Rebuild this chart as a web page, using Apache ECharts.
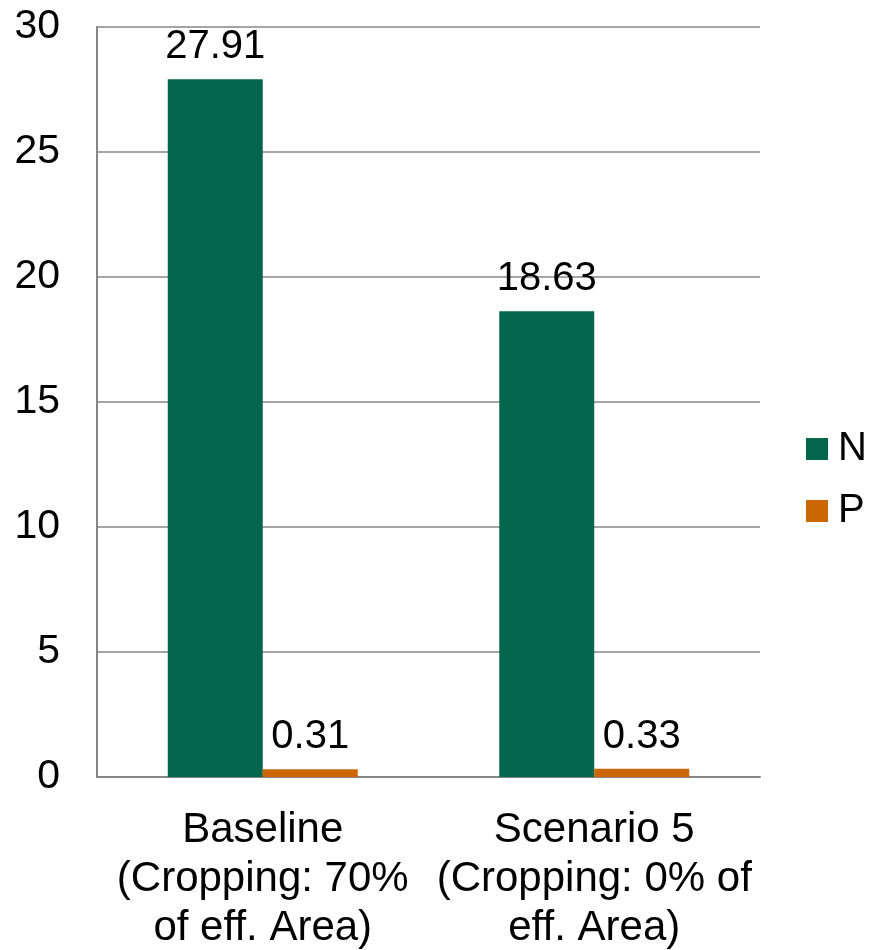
<!DOCTYPE html>
<html>
<head>
<meta charset="utf-8">
<script src="https://cdn.jsdelivr.net/npm/echarts@6/dist/echarts.min.js"></script>
<style>
  html, body { margin: 0; padding: 0; background: #fff; }
  #chart { width: 869px; height: 950px; }
</style>
</head>
<body>
<div id="chart"></div>
<script>
// Scenario labels along the x axis
const categories = [
  'Baseline\n(Cropping: 70%\nof eff. Area)',
  'Scenario 5\n(Cropping: 0% of\neff. Area)'
];
// Nutrient values per scenario
const nValues = [27.91, 18.63];
const pValues = [0.31, 0.33];
const seriesNames = ['N', 'P'];
const colors = ['#03664D', '#CC6600'];

const FONT = '"Liberation Sans", Arial, sans-serif';
const FS = 40;

const chart = echarts.init(document.getElementById('chart'), null, { renderer: 'canvas' });

const labelStyle = {
  show: true,
  position: 'top',
  distance: 12,
  color: '#000',
  fontSize: FS,
  fontFamily: FONT,
  formatter: p => p.value.toFixed(2)
};

chart.setOption({
  animation: false,
  textStyle: { fontFamily: FONT },
  grid: {
    left: 97, right: 109, top: 27, bottom: 173,
    containLabel: false,
    outerBoundsMode: 'none'
  },
  legend: {
    orient: 'vertical',
    left: 806,
    top: 429,
    padding: 0,
    itemWidth: 22,
    itemHeight: 22,
    itemGap: 22,
    icon: 'rect',
    textStyle: { fontSize: FS, color: '#000', fontFamily: FONT, padding: [0, 0, 0, 5] },
    data: seriesNames
  },
  xAxis: {
    type: 'category',
    data: categories,
    axisLine: { show: true, lineStyle: { color: '#868686', width: 2 } },
    axisTick: { show: false },
    axisLabel: {
      color: '#000',
      fontSize: 42,
      fontFamily: FONT,
      lineHeight: 49,
      margin: 29,
      interval: 0
    }
  },
  yAxis: {
    type: 'value',
    min: 0,
    max: 30,
    interval: 5,
    axisLine: { show: true, lineStyle: { color: '#868686', width: 2 } },
    axisTick: { show: false },
    splitLine: { lineStyle: { color: '#868686', width: 1.5 } },
    axisLabel: { color: '#000', fontSize: 41, fontFamily: FONT, margin: 37 }
  },
  series: [
    {
      name: seriesNames[0],
      type: 'bar',
      data: nValues,
      barWidth: 95,
      barGap: '0%',
      itemStyle: { color: colors[0] },
      label: labelStyle
    },
    {
      name: seriesNames[1],
      type: 'bar',
      data: pValues,
      barWidth: 95,
      barGap: '0%',
      itemStyle: { color: colors[1] },
      label: labelStyle
    }
  ]
});
</script>
</body>
</html>
